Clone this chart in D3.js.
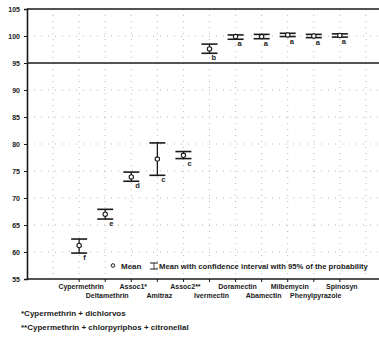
<!DOCTYPE html>
<html>
<head>
<meta charset="utf-8">
<script src="https://cdn.jsdelivr.net/npm/d3@7"></script>
<style>
  body { margin: 0; background: #fff; }
  svg { display: block; font-family: "Liberation Sans Narrow", "Arial Narrow", "Liberation Sans", sans-serif; }
</style>
</head>
<body>
<svg id="chart"></svg>
<script>
const categories = ["Cypermethrin", "Deltamethrin", "Assoc1*", "Amitraz", "Assoc2**", "Ivermectin",
  "Doramectin", "Abamectin", "Milbemycin", "Phenylpyrazole", "Spinosyn"];
const means = [61.2, 67.0, 73.9, 77.2, 77.9, 97.6, 99.9, 99.9, 100.2, 100.0, 100.1];
const lower = [59.8, 66.1, 73.1, 74.2, 77.3, 96.8, 99.4, 99.5, 99.9, 99.7, 99.8];
const upper = [62.4, 67.9, 74.8, 80.2, 78.6, 98.5, 100.2, 100.3, 100.5, 100.3, 100.4];
const letters = ["f", "e", "d", "c", "c", "b", "a", "a", "a", "a", "a"];
const yTicks = [55, 60, 65, 70, 75, 80, 85, 90, 95, 100, 105];
const footnotes = ["*Cypermethrin + dichlorvos", "**Cypermethrin + chlorpyriphos + citronellal"];

let width = 379, height = 344;
let margin = { top: 9, left: 27 };
let plotBottom = 279, plotRight = 392;

let svg = d3.select("#chart").attr("width", width).attr("height", height);

let x = d3.scaleLinear().domain([-2, 12]).range([margin.left, plotRight]);
let y = d3.scaleLinear().domain([55, 105]).range([plotBottom, margin.top]);

let ink = "#1a1a1a";

// faint dotted grid
svg.append("g").selectAll("line.gx")
  .data(d3.range(-1, 12))
  .enter().append("line")
  .attr("x1", d => x(d)).attr("x2", d => x(d))
  .attr("y1", margin.top).attr("y2", plotBottom)
  .attr("stroke", "#9a9a9a").attr("stroke-width", 0.7)
  .attr("stroke-dasharray", "1,5");
svg.append("g").selectAll("line.gy")
  .data(yTicks.filter(d => d != 55 && d != 105 && d != 95))
  .enter().append("line")
  .attr("x1", margin.left).attr("x2", width)
  .attr("y1", d => y(d)).attr("y2", d => y(d))
  .attr("stroke", "#9a9a9a").attr("stroke-width", 0.7)
  .attr("stroke-dasharray", "1,6");

// frame lines
svg.append("line").attr("x1", margin.left).attr("x2", width)
  .attr("y1", y(105)).attr("y2", y(105)).attr("stroke", ink).attr("stroke-width", 1.6);
svg.append("line").attr("x1", margin.left).attr("x2", width)
  .attr("y1", y(95)).attr("y2", y(95)).attr("stroke", ink).attr("stroke-width", 1.6);
svg.append("line").attr("x1", margin.left).attr("x2", width)
  .attr("y1", y(55)).attr("y2", y(55)).attr("stroke", ink).attr("stroke-width", 1.4);

// y axis
let yAxis = svg.append("g")
  .attr("transform", "translate(" + margin.left + ",0)")
  .call(d3.axisLeft(y).tickValues(yTicks).tickSize(3).tickPadding(4));
yAxis.select(".domain").attr("stroke", ink).attr("stroke-width", 1.6);
yAxis.selectAll(".tick line").attr("stroke", ink);
yAxis.selectAll(".tick text")
  .attr("fill", ink).style("font-size", "7px").style("font-weight", "bold");

// x tick marks at bottom
svg.append("g").selectAll("line.tk")
  .data(categories)
  .enter().append("line")
  .attr("x1", (d, i) => x(i)).attr("x2", (d, i) => x(i))
  .attr("y1", plotBottom).attr("y2", plotBottom + 3)
  .attr("stroke", ink);

// error bars
let cap = 8;
let marks = svg.append("g").selectAll("g.bar")
  .data(categories)
  .enter().append("g");
marks.append("line")
  .attr("x1", (d, i) => x(i)).attr("x2", (d, i) => x(i))
  .attr("y1", (d, i) => y(lower[i])).attr("y2", (d, i) => y(upper[i]))
  .attr("stroke", ink).attr("stroke-width", 1.3);
marks.append("line")
  .attr("x1", (d, i) => x(i) - cap).attr("x2", (d, i) => x(i) + cap)
  .attr("y1", (d, i) => y(lower[i])).attr("y2", (d, i) => y(lower[i]))
  .attr("stroke", ink).attr("stroke-width", 1.6);
marks.append("line")
  .attr("x1", (d, i) => x(i) - cap).attr("x2", (d, i) => x(i) + cap)
  .attr("y1", (d, i) => y(upper[i])).attr("y2", (d, i) => y(upper[i]))
  .attr("stroke", ink).attr("stroke-width", 1.6);
marks.append("circle")
  .attr("cx", (d, i) => x(i)).attr("cy", (d, i) => y(means[i]))
  .attr("r", 2.2).attr("fill", "#fff").attr("stroke", ink).attr("stroke-width", 1.1);
marks.append("text")
  .attr("x", (d, i) => x(i) + (means[i] > 95 ? 2 : 4))
  .attr("y", (d, i) => y(lower[i]) + 7)
  .attr("fill", ink).style("font-size", "7.5px").style("font-weight", "bold")
  .text((d, i) => letters[i]);

// category labels, two rows
svg.append("g").selectAll("text")
  .data(categories)
  .enter().append("text")
  .attr("x", (d, i) => x(i) + 2)
  .attr("y", (d, i) => i % 2 == 0 ? 289 : 298)
  .attr("text-anchor", "middle")
  .attr("fill", ink).style("font-size", "7px").style("font-weight", "bold")
  .text(d => d);

// legend
let lg = svg.append("g").attr("transform", "translate(113,266)");
lg.append("circle").attr("cx", 0).attr("cy", -0.5).attr("r", 1.8)
  .attr("fill", "#fff").attr("stroke", ink);
lg.append("text").attr("x", 8).attr("y", 2.5).attr("fill", ink)
  .style("font-size", "8px").style("font-weight", "bold").text("Mean");
lg.append("line").attr("x1", 37).attr("x2", 45).attr("y1", -3).attr("y2", -3).attr("stroke", ink);
lg.append("line").attr("x1", 37).attr("x2", 45).attr("y1", 3).attr("y2", 3).attr("stroke", ink);
lg.append("line").attr("x1", 41).attr("x2", 41).attr("y1", -3).attr("y2", 3).attr("stroke", ink).attr("stroke-width", 0.8);
lg.append("text").attr("x", 46).attr("y", 2.5).attr("fill", ink)
  .style("font-size", "7.7px").style("font-weight", "bold")
  .text("Mean with confidence interval with 95% of the probability");

// footnotes
svg.append("g").selectAll("text")
  .data(footnotes)
  .enter().append("text")
  .attr("x", 21).attr("y", (d, i) => 316 + i * 13.5)
  .attr("fill", ink).style("font-size", "8px").style("font-weight", "bold")
  .text(d => d);
</script>
</body>
</html>
